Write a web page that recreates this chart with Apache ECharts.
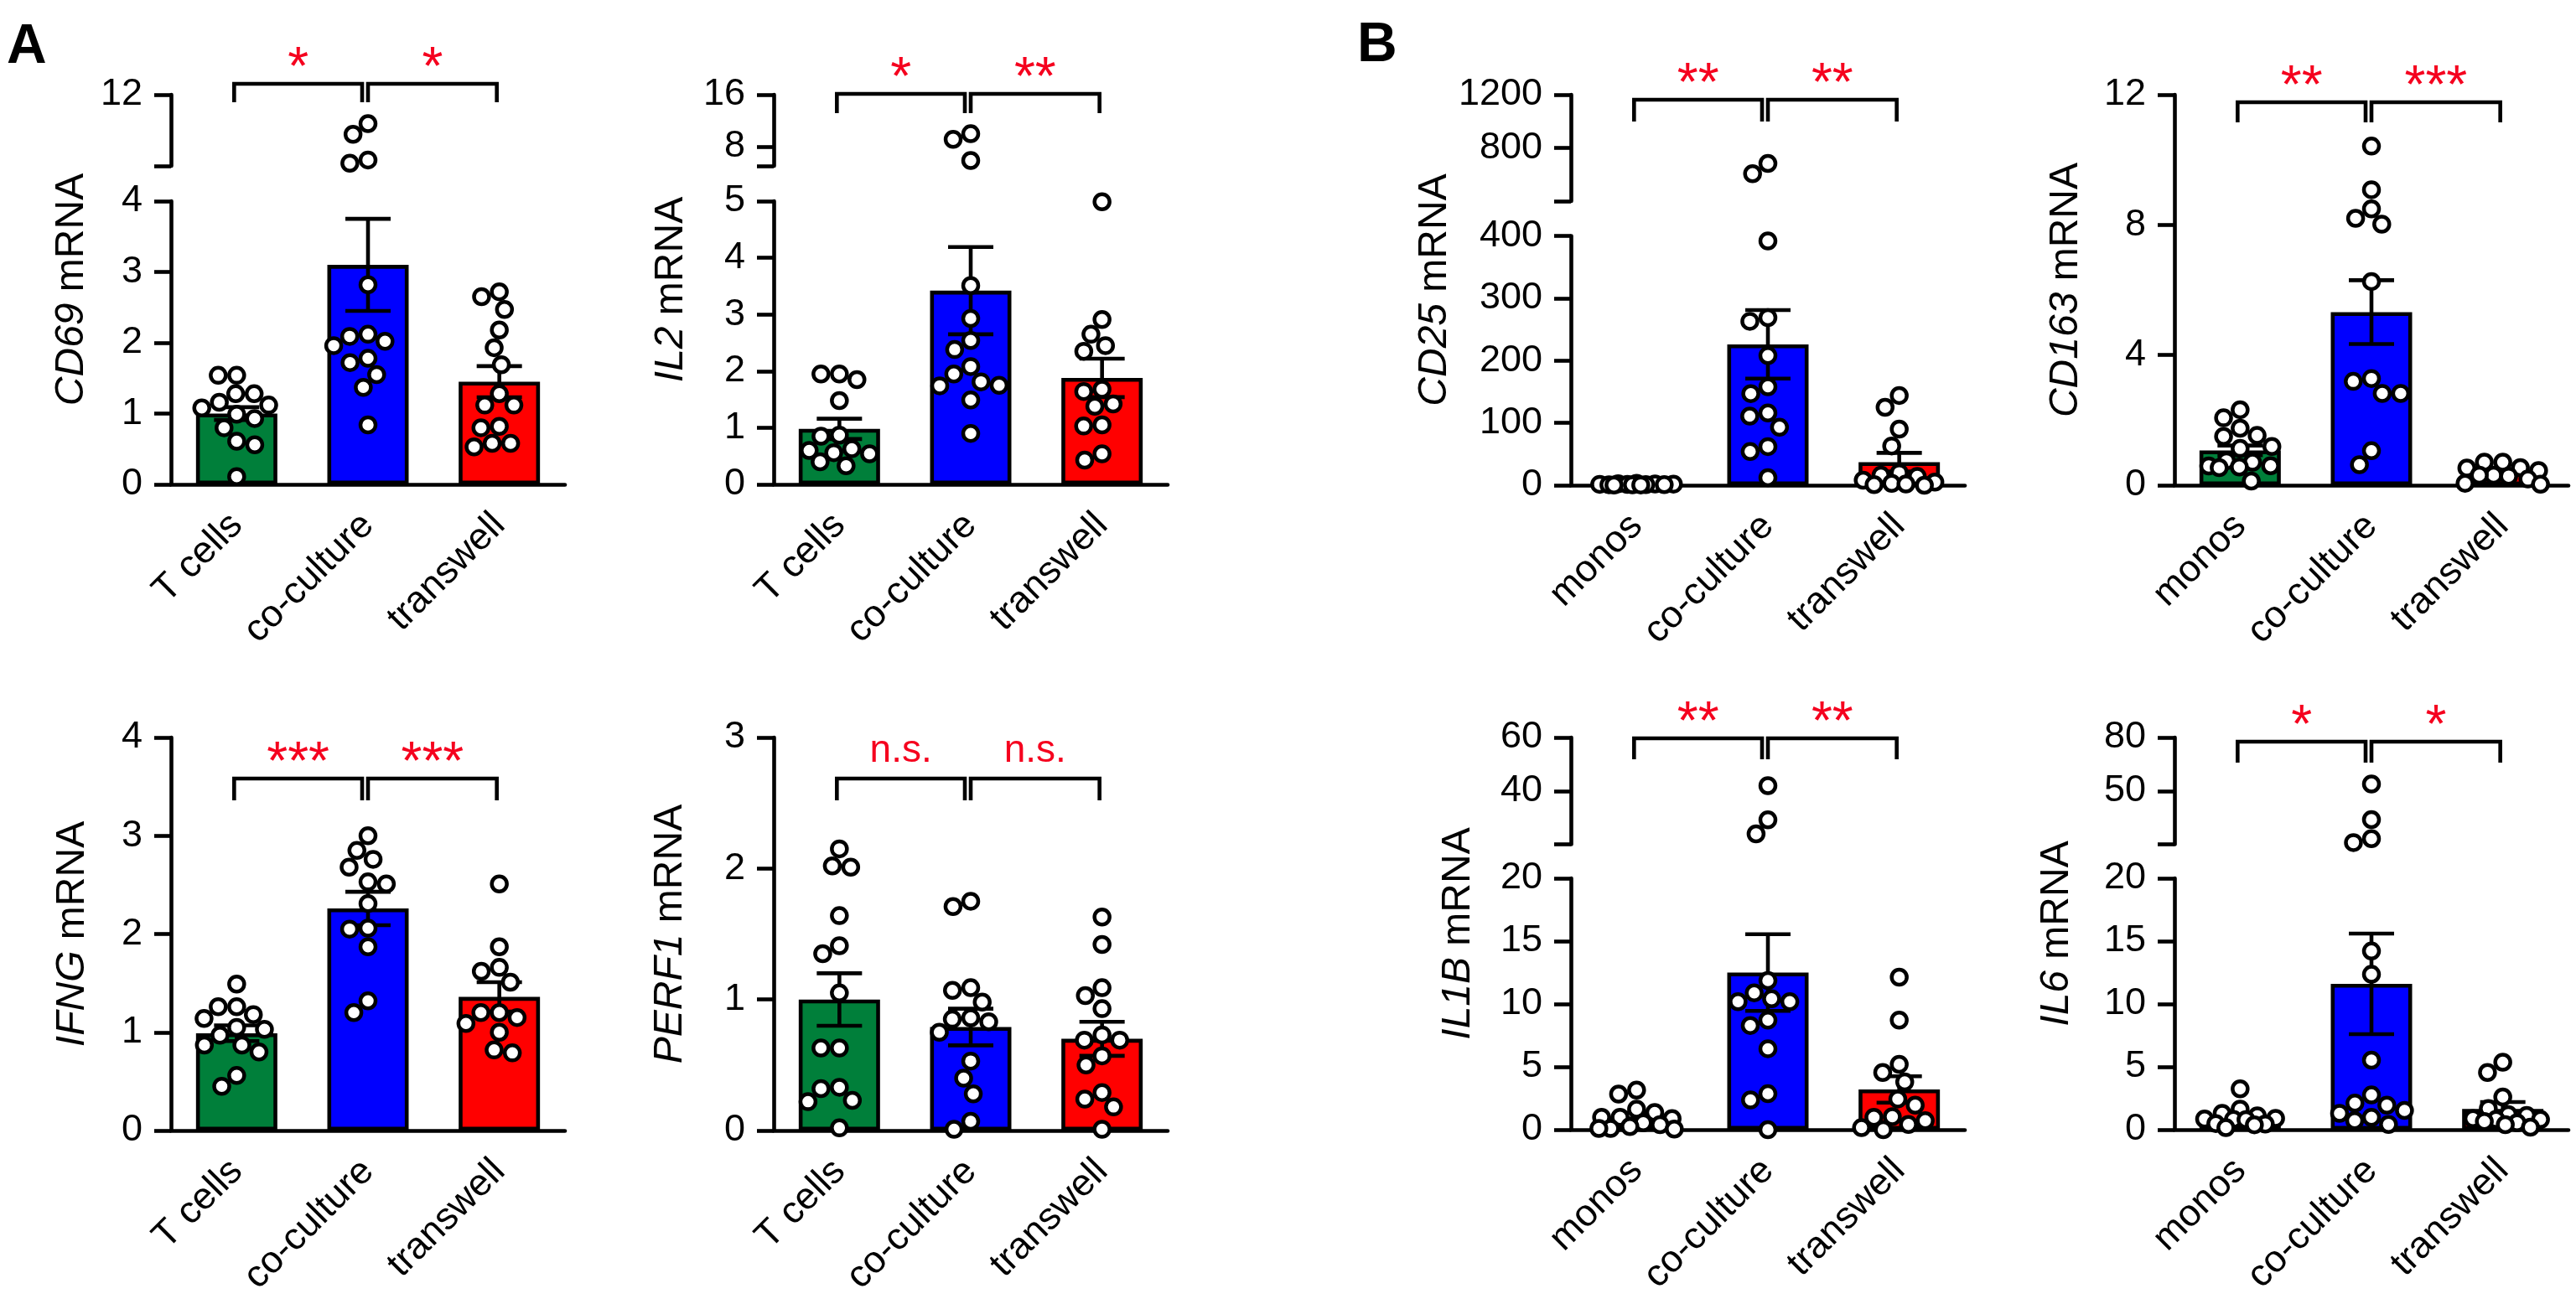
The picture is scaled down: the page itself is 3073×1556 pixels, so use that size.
<!DOCTYPE html>
<html>
<head>
<meta charset="utf-8">
<title>mRNA expression, T cells / monocytes</title>
<script src="https://cdn.jsdelivr.net/npm/echarts@6.0.0/dist/echarts.min.js"></script>
<style>
  html, body { margin: 0; padding: 0; background: #fff; }
  #chart { width: 3073px; height: 1556px; }
</style>
</head>
<body>
<div id="chart"></div>
<script>
// ---- data ----
var groupsA = ['T cells', 'co-culture', 'transwell'];
var groupsB = ['monos', 'co-culture', 'transwell'];

var cd69Pts = [
  [1.54, 1.54, 1.28, 1.28, 1.16, 1.12, 1.08, 0.99, 0.93, 0.80, 0.61, 0.56, 0.11],
  [8.76, 7.55, 4.67, 4.30, 2.82, 2.12, 2.09, 2.02, 1.96, 1.78, 1.72, 1.55, 1.37, 0.84],
  [2.72, 2.65, 2.47, 2.18, 1.93, 1.69, 1.28, 1.12, 1.12, 0.82, 0.80, 0.58, 0.58, 0.53]
];
var cd69Mean = [1.00, 3.10, 1.45];
var cd69Sem = [0.09, 0.65, 0.22];
var cd69Ticks = [0, 1, 2, 3, 4];
var cd69UpTicks = [12];
var cd69Sig = ['*', '*'];

var il2Pts = [
  [1.95, 1.95, 1.85, 1.48, 0.87, 0.85, 0.63, 0.60, 0.56, 0.54, 0.40, 0.33],
  [9.97, 9.10, 5.84, 3.51, 2.93, 2.54, 2.38, 2.08, 1.95, 1.81, 1.75, 1.74, 1.49, 0.90],
  [4.99, 2.91, 2.65, 2.45, 2.35, 1.68, 1.64, 1.42, 1.38, 1.05, 1.03, 0.54, 0.43]
];
var il2Mean = [0.98, 3.42, 1.88];
var il2Sem = [0.18, 0.77, 0.34];
var il2Ticks = [0, 1, 2, 3, 4, 5];
var il2UpTicks = [8, 16];
var il2Sig = ['*', '**'];

var ifngPts = [
  [1.49, 1.26, 1.26, 1.18, 1.14, 1.05, 1.03, 0.97, 0.87, 0.87, 0.80, 0.56, 0.45],
  [3.00, 2.85, 2.76, 2.68, 2.53, 2.51, 2.31, 2.06, 2.05, 1.87, 1.32, 1.20],
  [2.51, 1.87, 1.66, 1.62, 1.51, 1.20, 1.20, 1.15, 1.09, 1.00, 0.82, 0.79]
];
var ifngMean = [0.99, 2.26, 1.36];
var ifngSem = [0.08, 0.17, 0.15];
var ifngTicks = [0, 1, 2, 3, 4];
var ifngSig = ['***', '***'];

var perf1Pts = [
  [2.15, 2.02, 2.01, 1.64, 1.41, 1.35, 1.05, 0.63, 0.63, 0.33, 0.32, 0.23, 0.22, 0.02],
  [1.75, 1.71, 1.09, 1.07, 0.98, 0.86, 0.85, 0.83, 0.75, 0.53, 0.40, 0.28, 0.07, 0.01],
  [1.63, 1.42, 1.09, 1.03, 0.93, 0.73, 0.69, 0.69, 0.57, 0.50, 0.29, 0.24, 0.18, 0.01]
];
var perf1Mean = [1.00, 0.79, 0.70];
var perf1Sem = [0.20, 0.14, 0.13];
var perf1Ticks = [0, 1, 2, 3];
var perf1Sig = ['n.s.', 'n.s.'];

var cd25Pts = [
  [3.0, 2.4, 2.0, 1.8, 1.5, 1.3, 1.1, 0.9, 0.8, 0.6, 0.5, 0.3],
  [683, 606, 392, 269, 263, 208, 158, 147, 116, 111, 93, 62, 54, 12],
  [144, 125, 90, 63, 20, 16, 14, 8, 5, 3, 2, 1, 0]
];
var cd25Mean = [1.5, 226, 37];
var cd25Sem = [0.3, 55, 15];
var cd25Ticks = [0, 100, 200, 300, 400];
var cd25UpTicks = [800, 1200];
var cd25Sig = ['**', '**'];

var cd163Pts = [
  [2.32, 2.07, 1.75, 1.53, 1.50, 1.19, 1.13, 0.75, 0.71, 0.60, 0.59, 0.56, 0.54, 0.13],
  [10.42, 9.08, 8.49, 8.20, 8.02, 6.26, 3.28, 3.19, 2.82, 2.82, 1.06, 0.63],
  [0.71, 0.71, 0.54, 0.53, 0.45, 0.31, 0.31, 0.28, 0.19, 0.06, 0.03]
];
var cd163Mean = [1.07, 5.32, 0.38];
var cd163Sem = [0.15, 0.98, 0.07];
var cd163Ticks = [0, 4, 8, 12];
var cd163Sig = ['**', '***'];

var il1bPts = [
  [3.15, 2.83, 1.63, 1.37, 0.98, 0.98, 0.88, 0.55, 0.40, 0.25, 0.10, 0.10, 0.05],
  [41.95, 29.2, 23.9, 11.87, 10.89, 10.41, 10.18, 10.18, 8.72, 8.29, 6.44, 2.86, 2.37, 0],
  [12.13, 8.72, 5.2, 4.55, 3.8, 2.44, 1.95, 1.04, 0.98, 0.72, 0.42, 0.16, 0]
];
var il1bMean = [1.05, 12.5, 3.2];
var il1bSem = [0.30, 3.05, 1.05];
var il1bTicks = [0, 5, 10, 15, 20];
var il1bUpTicks = [40, 60];
var il1bSig = ['**', '**'];

var il6Pts = [
  [3.25, 1.63, 1.30, 1.10, 0.90, 0.85, 0.81, 0.80, 0.49, 0.45, 0.39, 0.16],
  [53.9, 33.9, 23.2, 21.0, 14.21, 12.36, 5.53, 2.76, 2.11, 1.95, 1.53, 1.30, 0.98, 0.72, 0.42],
  [5.37, 4.55, 2.6, 1.69, 1.2, 1.14, 0.88, 0.81, 0.81, 0.65, 0.55, 0.4, 0.2]
];
var il6Mean = [1.00, 11.6, 1.65];
var il6Sem = [0.24, 4.0, 0.55];
var il6Ticks = [0, 5, 10, 15, 20];
var il6UpTicks = [50, 80];
var il6Sig = ['*', '*'];

// ---- styling / layout ----
var FONT = 'Liberation Sans';
var BAR_COLORS = ['#007f3a', '#0000ff', '#ff0000'];
var SIG_COLOR = '#f5001e';
var LW = 4.6;
var GRID_W = 470;
var DOT = 18, DOT_BORDER = 4.5, DOT_SPACE = 22, DOT_SPREAD = 45;

var layout = {
  CD69:  {left: 204,  zero: 578,  loTop: 240,   upTop: 113, upBottom: 198,    titleGap: 118, brDy: -13, brLeg: 22},
  IL2:   {left: 923,  zero: 578,  loTop: 240,   upTop: 113, upBottom: 198,    titleGap: 122, brDy: -1,  brLeg: 23},
  CD25:  {left: 1874, zero: 579,  loTop: 281.5, upTop: 113, upBottom: 240,    titleGap: 162, brDy: 6,   brLeg: 26},
  CD163: {left: 2594, zero: 579,  loTop: 113,                                  titleGap: 129, brDy: 9,   brLeg: 24},
  IFNG:  {left: 204,  zero: 1349, loTop: 880,                                  titleGap: 117, brDy: 49,  brLeg: 26},
  PERF1: {left: 923,  zero: 1349, loTop: 880,                                  titleGap: 123, brDy: 49,  brLeg: 26},
  IL1B:  {left: 1874, zero: 1348, loTop: 1048,  upTop: 880, upBottom: 1007.5, titleGap: 134, brDy: 1,   brLeg: 25},
  IL6:   {left: 2594, zero: 1348, loTop: 1048,  upTop: 880, upBottom: 1007.5, titleGap: 140, brDy: 5,   brLeg: 25}
};

var panels = [
  {gene: 'CD69',  cats: groupsA, pts: cd69Pts,  mean: cd69Mean,  sem: cd69Sem,  ticks: cd69Ticks,  upTicks: cd69UpTicks, sig: cd69Sig},
  {gene: 'IL2',   cats: groupsA, pts: il2Pts,   mean: il2Mean,   sem: il2Sem,   ticks: il2Ticks,   upTicks: il2UpTicks,  sig: il2Sig},
  {gene: 'CD25',  cats: groupsB, pts: cd25Pts,  mean: cd25Mean,  sem: cd25Sem,  ticks: cd25Ticks,  upTicks: cd25UpTicks, sig: cd25Sig},
  {gene: 'CD163', cats: groupsB, pts: cd163Pts, mean: cd163Mean, sem: cd163Sem, ticks: cd163Ticks, sig: cd163Sig},
  {gene: 'IFNG',  cats: groupsA, pts: ifngPts,  mean: ifngMean,  sem: ifngSem,  ticks: ifngTicks,  sig: ifngSig},
  {gene: 'PERF1', cats: groupsA, pts: perf1Pts, mean: perf1Mean, sem: perf1Sem, ticks: perf1Ticks, sig: perf1Sig},
  {gene: 'IL1B',  cats: groupsB, pts: il1bPts,  mean: il1bMean,  sem: il1bSem,  ticks: il1bTicks,  upTicks: il1bUpTicks, sig: il1bSig},
  {gene: 'IL6',   cats: groupsB, pts: il6Pts,   mean: il6Mean,   sem: il6Sem,   ticks: il6Ticks,   upTicks: il6UpTicks,  sig: il6Sig}
];

var grids = [], xAxes = [], yAxes = [], series = [], graphics = [];

// simple beeswarm: horizontal pixel offsets so that dots don't overlap
function swarm(ys) {
  var idx = ys.map(function (y, i) { return i; }).sort(function (a, b) { return ys[a] - ys[b]; });
  var placed = [], xs = [];
  idx.forEach(function (i) {
    var y = ys[i], cands = [0];
    placed.forEach(function (q) {
      var dy = Math.abs(q.y - y);
      if (dy < DOT_SPACE) {
        var dx = Math.sqrt(DOT_SPACE * DOT_SPACE - dy * dy);
        cands.push(q.x + dx, q.x - dx);
      }
    });
    cands.sort(function (a, b) { return Math.abs(a) - Math.abs(b) || a - b; });
    var free = function (c) {
      return placed.every(function (q) {
        return (q.x - c) * (q.x - c) + (q.y - y) * (q.y - y) >= DOT_SPACE * DOT_SPACE - 0.5;
      });
    };
    var best = null;
    for (var k = 0; k < cands.length; k++) {
      if (Math.abs(cands[k]) <= DOT_SPREAD && free(cands[k])) { best = cands[k]; break; }
    }
    if (best === null) {
      // crowded row: squeeze in where the nearest dot is farthest away
      var bestD = -1;
      for (var c = -DOT_SPREAD; c <= DOT_SPREAD; c += 1) {
        var md = Infinity;
        placed.forEach(function (q) { md = Math.min(md, Math.hypot(q.x - c, q.y - y)); });
        if (md > bestD + 0.01) { bestD = md; best = c; }
      }
    }
    xs[i] = best;
    placed.push({x: best, y: y});
  });
  return xs;
}

function addSegment(L, top, height, min, max, tickVals, labelVals, cats, showX) {
  var gi = grids.length;
  grids.push({left: L.left, top: top, width: GRID_W, height: height, containLabel: false, outerBoundsMode: 'none'});
  xAxes.push({
    type: 'category', gridIndex: gi, data: cats, show: showX,
    axisLine: {onZero: false, lineStyle: {color: '#000', width: LW}},
    axisTick: {alignWithLabel: true, length: 18, lineStyle: {color: '#000', width: LW}},
    axisLabel: {interval: 0, rotate: 45, margin: 42, fontSize: 45, color: '#000', fontFamily: FONT},
    splitLine: {show: false}
  });
  xAxes.push({type: 'value', gridIndex: gi, show: false, min: -0.5, max: 2.5});
  yAxes.push({
    type: 'value', gridIndex: gi, min: min, max: max,
    axisLine: {show: true, onZero: false, lineStyle: {color: '#000', width: LW}},
    axisTick: {show: true, length: 20, customValues: tickVals, lineStyle: {color: '#000', width: LW}},
    axisLabel: {
      customValues: labelVals, margin: 34, fontSize: 45, color: '#000', fontFamily: FONT,
      formatter: function (v) { return String(v); }
    },
    splitLine: {show: false}
  });
  return {cat: xAxes.length - 2, val: xAxes.length - 1, y: yAxes.length - 1, max: max, top: top};
}

function renderErr(params, api) {
  var lo = api.coord([api.value(0), api.value(1)]);
  var hi = api.coord([api.value(0), api.value(2)]);
  var s = {stroke: '#000', lineWidth: LW, fill: 'none'};
  return {type: 'group', children: [
    {type: 'line', shape: {x1: hi[0], y1: hi[1], x2: lo[0], y2: lo[1]}, style: s},
    {type: 'line', shape: {x1: hi[0] - 27, y1: hi[1], x2: hi[0] + 27, y2: hi[1]}, style: s},
    {type: 'line', shape: {x1: lo[0] - 27, y1: lo[1], x2: lo[0] + 27, y2: lo[1]}, style: s}
  ]};
}

function dotSeries(seg, data) {
  return {
    type: 'scatter', xAxisIndex: seg.val, yAxisIndex: seg.y, data: data,
    symbol: 'circle', symbolSize: DOT, clip: false, silent: true, z: 4,
    itemStyle: {color: '#fff', borderColor: '#000', borderWidth: DOT_BORDER, opacity: 1}
  };
}

panels.forEach(function (p) {
  var L = layout[p.gene];
  var loMin = p.ticks[0], loMax = p.ticks[p.ticks.length - 1];
  var broken = !!(p.upTicks && p.upTicks.length);
  var upMin = loMax, upMax = broken ? p.upTicks[p.upTicks.length - 1] : loMax;

  function py(v) {
    if (broken && v > loMax) return L.upTop + (upMax - v) / (upMax - upMin) * (L.upBottom - L.upTop);
    return L.zero - (v - loMin) / (loMax - loMin) * (L.zero - L.loTop);
  }

  var lo = addSegment(L, L.loTop, L.zero - L.loTop, loMin, loMax, p.ticks, p.ticks, p.cats, true);
  var up = broken
    ? addSegment(L, L.upTop, L.upBottom - L.upTop, upMin, upMax, [upMin].concat(p.upTicks), p.upTicks, p.cats, false)
    : lo;

  series.push({
    type: 'bar', xAxisIndex: lo.cat, yAxisIndex: lo.y, barWidth: 97, silent: true, z: 2,
    itemStyle: {borderColor: '#000', borderWidth: LW},
    data: p.mean.map(function (m, i) { return {value: m, itemStyle: {color: BAR_COLORS[i]}}; })
  });
  series.push({
    type: 'custom', xAxisIndex: lo.cat, yAxisIndex: lo.y, silent: true, clip: false, z: 3,
    data: p.mean.map(function (m, i) { return [i, m - p.sem[i], m + p.sem[i]]; }),
    renderItem: renderErr
  });

  var loData = [], upData = [];
  p.pts.forEach(function (vals, i) {
    var offs = swarm(vals.map(py));
    vals.forEach(function (v, j) {
      var item = [i + offs[j] / (GRID_W / 3), v];
      (broken && v > loMax ? upData : loData).push(item);
    });
  });
  series.push(dotSeries(lo, loData));
  if (broken) series.push(dotSeries(up, upData));

  // significance brackets
  series.push({
    type: 'custom', xAxisIndex: up.cat, yAxisIndex: up.y, silent: true, clip: false, z: 5,
    data: [[0, 1], [1, 2]],
    renderItem: function (params, api) {
      var k = params.dataIndex;
      var a = api.coord([api.value(0), up.max]);
      var b = api.coord([api.value(1), up.max]);
      var x0 = a[0] + (k === 0 ? -3 : 0), x1 = b[0] + (k === 0 ? -7 : -3);
      var yb = a[1] + L.brDy;
      var txt = p.sig[k], ns = txt === 'n.s.';
      return {type: 'group', children: [
        {type: 'polyline', shape: {points: [[x0, yb + L.brLeg], [x0, yb], [x1, yb], [x1, yb + L.brLeg]]},
         style: {stroke: '#000', lineWidth: LW, fill: 'none'}},
        {type: 'text', x: (x0 + x1) / 2, y: ns ? yb - 33 : yb - 17,
         style: {text: txt, fill: SIG_COLOR, fontSize: ns ? 46 : 64, fontFamily: FONT,
                 align: 'center', verticalAlign: 'middle'}}
      ]};
    }
  });

  // y axis title, gene name in italics
  var axisTop = broken ? L.upTop : L.loTop;
  graphics.push({
    type: 'text', x: L.left - L.titleGap, y: (axisTop + L.zero) / 2, rotation: Math.PI / 2, silent: true,
    style: {
      text: '{g|' + p.gene + '} mRNA',
      rich: {g: {fontStyle: 'italic', fontSize: 48, fontFamily: FONT, fill: '#000'}},
      fontSize: 48, fontFamily: FONT, fill: '#000', align: 'center', verticalAlign: 'middle'
    }
  });
});

graphics.push(
  {type: 'text', x: 8, y: 57, silent: true,
   style: {text: 'A', fontSize: 66, fontWeight: 'bold', fontFamily: FONT, fill: '#000', verticalAlign: 'middle'}},
  {type: 'text', x: 1619, y: 55, silent: true,
   style: {text: 'B', fontSize: 66, fontWeight: 'bold', fontFamily: FONT, fill: '#000', verticalAlign: 'middle'}}
);

var chart = echarts.init(document.getElementById('chart'));
chart.setOption({
  animation: false,
  backgroundColor: '#fff',
  textStyle: {fontFamily: FONT},
  grid: grids,
  xAxis: xAxes,
  yAxis: yAxes,
  series: series,
  graphic: graphics
});
</script>
</body>
</html>
